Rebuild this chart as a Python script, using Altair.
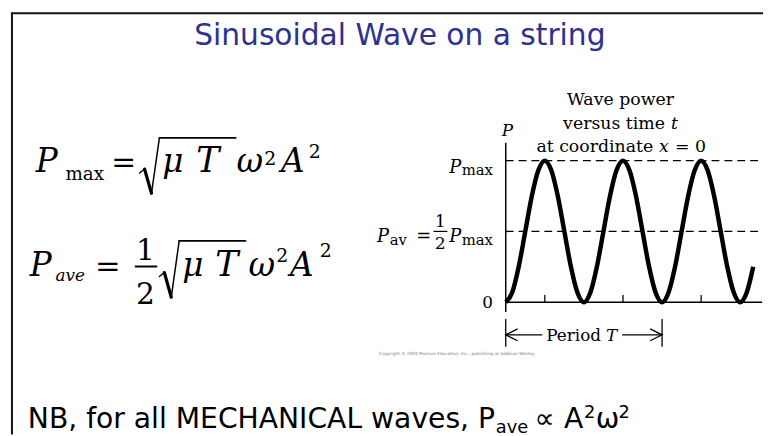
import altair as alt
import pandas as pd

SERIF = "DejaVu Serif"
SANS = "DejaVu Sans"
NAVY = "#2E3192"

# ---------------- data ----------------
# time in units of the wave period T, power in units of P_max
t_curve = [0.000, 0.042, 0.083, 0.125, 0.167, 0.208, 0.250, 0.292, 0.333, 0.375,
           0.417, 0.458, 0.500, 0.542, 0.583, 0.625, 0.667, 0.708, 0.750, 0.792,
           0.833, 0.875, 0.917, 0.958, 1.000, 1.042, 1.083, 1.125, 1.167, 1.208,
           1.250, 1.292, 1.333, 1.375, 1.417, 1.458, 1.500, 1.542, 1.583]
p_curve = [0.00, 0.07, 0.25, 0.50, 0.75, 0.93, 1.00, 0.93, 0.75, 0.50,
           0.25, 0.07, 0.00, 0.07, 0.25, 0.50, 0.75, 0.93, 1.00, 0.93,
           0.75, 0.50, 0.25, 0.07, 0.00, 0.07, 0.25, 0.50, 0.75, 0.93,
           1.00, 0.93, 0.75, 0.50, 0.25, 0.07, 0.00, 0.07, 0.25]
ref_levels = [1.0, 0.5]             # P_max and P_av dashed levels
ref_t_start = [0.0, 0.0]
ref_t_end = [1.64, 1.64]
tick_t = [0.25, 0.75, 1.25]          # small ticks on the time axis
period_t = [0.0, 1.0]                # ends of the "Period T" bracket
arrow_t = [0.076, 0.0, 0.076, 0.924, 1.0, 0.924]
arrow_p = [-0.189, -0.231, -0.273, -0.189, -0.231, -0.273]
arrow_id = ["left", "left", "left", "right", "right", "right"]
arrow_order = [0, 1, 2, 0, 1, 2]

title_text = "Sinusoidal Wave on a string"
panel_title = ["Wave power", "versus time", "t", "at coordinate", "x", "= 0"]
bottom_text = ["NB, for all MECHANICAL waves, P", "ave", "\u221d", "A", "2", "\u03c9", "2"]
copyright_text = "Copyright \u00a9 2004 Pearson Education, Inc., publishing as Addison Wesley."

# ---------------- layout ----------------
W, H = 755, 420
xs = alt.Scale(domain=[-503 / 158, 252 / 158], nice=False, zero=False)
ys = alt.Scale(domain=[(295 - 420) / 143, 295 / 143], nice=False, zero=False)


def X(f):
    return alt.X(f, scale=xs, axis=None)


def Y(f):
    return alt.Y(f, scale=ys, axis=None)


def txt(s, x, y, size, font=SERIF, style="normal", align="left", color="black"):
    return alt.Chart(pd.DataFrame({"s": [s]})).mark_text(
        font=font, fontSize=size, fontStyle=style, align=align,
        baseline="alphabetic", color=color
    ).encode(x=alt.value(x), y=alt.value(y), text="s:N")


def dtxt(s, t, p, size, dx=0, dy=0, font=SERIF, style="normal", align="left"):
    return alt.Chart(pd.DataFrame({"s": [s], "t": [t], "p": [p]})).mark_text(
        font=font, fontSize=size, fontStyle=style, align=align,
        baseline="alphabetic", color="black", dx=dx, dy=dy
    ).encode(x=X("t:Q"), y=Y("p:Q"), text="s:N")


def seg(x1, y1, x2, y2, w=2, color="black"):
    return alt.Chart(pd.DataFrame({"a": [0]})).mark_rule(
        color=color, strokeWidth=w, strokeCap="round"
    ).encode(x=alt.value(x1), y=alt.value(y1), x2=alt.value(x2), y2=alt.value(y2))


def radical(x0, ytop, ybot, xend):
    # square-root sign drawn as strokes: hook, heavy down-stroke, thin up-stroke, vinculum
    yh = ybot - 0.42 * (ybot - ytop)
    return [
        seg(x0, yh + 3, x0 + 5, yh - 1, 1.5),
        seg(x0 + 5, yh - 1, x0 + 12, ybot, 3.2),
        seg(x0 + 12, ybot, x0 + 20, ytop, 1.5),
        seg(x0 + 20, ytop, xend, ytop, 1.8),
    ]


layers = []

# slide frame
layers.append(seg(4, 3, 763, 3, 2, "#111"))
layers.append(seg(4, 3, 4, 428, 2, "#111"))

# title
layers.append(txt(title_text, 396, 35, 30, font=SANS, align="center", color=NAVY))

# formula 1:  P_max = sqrt(mu T) w^2 A^2
base1 = 163
layers += [
    txt("P", 28, base1, 33, style="italic"),
    txt("max", 58, base1 + 9, 18.5),
    txt("=", 117, base1, 30, align="center"),
]
layers += radical(133, 129, 185, 230)
layers += [
    txt("\u03bc", 156, base1, 33, style="italic"),
    txt("T", 202, base1, 35, style="italic", align="center"),
    txt("\u03c9", 231, base1, 33, style="italic"),
    txt("2", 259, base1 - 7, 19),
    txt("A", 276, base1, 33, style="italic"),
    txt("2", 304, base1 - 14, 19),
]

# formula 2:  P_ave = 1/2 sqrt(mu T) w^2 A^2
base2 = 269
layers += [
    txt("P", 22, base2, 33, style="italic"),
    txt("ave", 48, base2 + 5, 17, style="italic"),
    txt("=", 101, base2, 31, align="center"),
    txt("1", 139, base2 - 17, 30, align="center"),
    seg(129, 259, 150, 259, 2),
    txt("2", 139, base2 + 28, 30, align="center"),
]
layers += radical(153, 233, 290, 240)
layers += [
    txt("\u03bc", 176, base2, 33, style="italic"),
    txt("T", 221, base2, 35, style="italic", align="center"),
    txt("\u03c9", 243, base2, 33, style="italic"),
    txt("2", 271, base2 - 15, 19),
    txt("A", 285, base2, 33, style="italic"),
    txt("2", 315, base2 - 20, 19),
]

# ---------------- wave-power panel ----------------
curve_df = pd.DataFrame({"t": t_curve, "p": p_curve})
layers.append(alt.Chart(curve_df).mark_line(
    color="black", strokeWidth=4.5, interpolate="monotone"
).encode(x=X("t:Q"), y=Y("p:Q")))

ref_df = pd.DataFrame({"p": ref_levels, "t0": ref_t_start, "t1": ref_t_end})
layers.append(alt.Chart(ref_df).mark_rule(
    color="black", strokeWidth=1.4, strokeDash=[8, 5]
).encode(x=X("t0:Q"), x2="t1:Q", y=Y("p:Q")))

# axes
layers.append(alt.Chart(pd.DataFrame({"t0": [0.0], "t1": [1.64], "p": [0.0]})).mark_rule(
    color="black", strokeWidth=1.5).encode(x=X("t0:Q"), x2="t1:Q", y=Y("p:Q")))
layers.append(alt.Chart(pd.DataFrame({"t": [0.0], "p0": [-0.07], "p1": [1.126]})).mark_rule(
    color="black", strokeWidth=1.5).encode(x=X("t:Q"), y=Y("p0:Q"), y2="p1:Q"))

tick_df = pd.DataFrame({"t": tick_t, "p0": [0.0] * len(tick_t), "p1": [0.05] * len(tick_t)})
layers.append(alt.Chart(tick_df).mark_rule(color="black", strokeWidth=1.3).encode(
    x=X("t:Q"), y=Y("p0:Q"), y2="p1:Q"))

# period bracket
br_df = pd.DataFrame({"t": period_t, "p0": [-0.119, -0.119], "p1": [-0.315, -0.315]})
layers.append(alt.Chart(br_df).mark_rule(color="black", strokeWidth=1.3).encode(
    x=X("t:Q"), y=Y("p0:Q"), y2="p1:Q"))
shaft_df = pd.DataFrame({"t0": [0.0, 0.745], "t1": [0.234, 1.0], "p": [-0.231, -0.231]})
layers.append(alt.Chart(shaft_df).mark_rule(color="black", strokeWidth=1.3).encode(
    x=X("t0:Q"), x2="t1:Q", y=Y("p:Q")))
head_df = pd.DataFrame({"t": arrow_t, "p": arrow_p, "id": arrow_id, "k": arrow_order})
layers.append(alt.Chart(head_df).mark_line(color="black", strokeWidth=1.3).encode(
    x=X("t:Q"), y=Y("p:Q"), detail="id:N", order="k:Q"))
layers.append(dtxt("Period", 0.259, -0.231, 17, dy=6))
layers.append(dtxt("T", 0.642, -0.231, 17, dy=6, style="italic"))

# axis labels
layers.append(txt("P", 499, 127, 17, style="italic"))
layers.append(dtxt("0", -0.082, 0.0, 17, dy=6, align="right"))
# P_max row
layers.append(dtxt("max", -0.082, 1.0, 15, dy=14, align="right"))
layers.append(dtxt("P", -0.285, 1.0, 18, dy=12, style="italic", align="right"))
# P_av row
layers.append(dtxt("max", -0.082, 0.5, 15, dy=14, align="right"))
layers.append(dtxt("P", -0.285, 0.5, 18, dy=11, style="italic", align="right"))
layers.append(dtxt("1", -0.418, 0.5, 17, dy=-4, align="center"))
layers.append(alt.Chart(pd.DataFrame({"t0": [-0.462], "t1": [-0.373], "p": [0.5]})).mark_rule(
    color="black", strokeWidth=1.2).encode(x=X("t0:Q"), x2="t1:Q", y=Y("p:Q")))
layers.append(dtxt("2", -0.418, 0.5, 17, dy=18, align="center"))
layers.append(dtxt("=", -0.525, 0.5, 18, dy=11, align="center"))
layers.append(dtxt("av", -0.632, 0.5, 15, dy=14, align="right"))
layers.append(dtxt("P", -0.746, 0.5, 18, dy=11, style="italic", align="right"))

# panel title
layers += [
    txt(panel_title[0], 619, 96, 17.5, align="center"),
    txt(panel_title[1], 561, 120, 17.5),
    txt(panel_title[2], 670, 120, 17.5, style="italic"),
    txt(panel_title[3], 534, 143, 17.5),
    txt(panel_title[4], 658, 143, 17.5, style="italic"),
    txt(panel_title[5], 674, 143, 17.5),
]

layers.append(txt(copyright_text, 375, 348, 4.3, font=SANS, color="#777"))

# bottom line
layers += [
    txt(bottom_text[0], 20, 422, 28.5, font=SANS),
    txt(bottom_text[1], 493, 427, 18, font=SANS),
    txt(bottom_text[2], 532, 422, 28.5, font=SANS),
    txt(bottom_text[3], 562, 422, 28.5, font=SANS),
    txt(bottom_text[4], 582, 412, 18, font=SANS),
    txt(bottom_text[5], 594, 422, 28.5, font=SANS),
    txt(bottom_text[6], 617, 412, 18, font=SANS),
]

chart = alt.layer(*layers).properties(
    width=W, height=H,
    padding={"left": 0, "top": 0, "right": 8, "bottom": 8},
    autosize=alt.AutoSizeParams(type="none"),
    background="white",
).configure_view(stroke=None)

chart.save("out.html", embed_options={"renderer": "svg", "actions": False})
